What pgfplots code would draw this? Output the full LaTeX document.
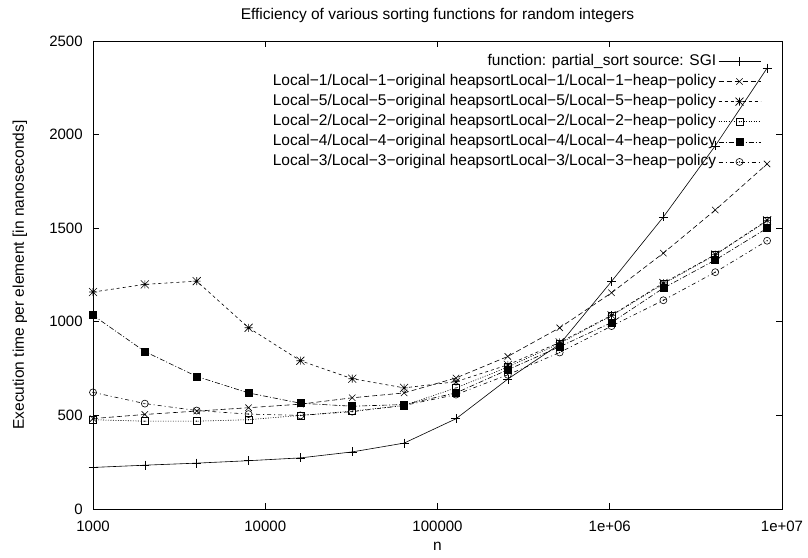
\documentclass[border=0pt]{standalone}
\usepackage{fontspec}
\setmainfont{Liberation Sans}
\usepackage{pgfplots}
\pgfplotsset{compat=1.18}
\pgfdeclareplotmark{gpstar}{%
  \pgfpathmoveto{\pgfqpoint{-\pgfplotmarksize}{0pt}}\pgfpathlineto{\pgfqpoint{\pgfplotmarksize}{0pt}}%
  \pgfpathmoveto{\pgfqpoint{0pt}{-\pgfplotmarksize}}\pgfpathlineto{\pgfqpoint{0pt}{\pgfplotmarksize}}%
  \pgfpathmoveto{\pgfqpoint{-\pgfplotmarksize}{-\pgfplotmarksize}}\pgfpathlineto{\pgfqpoint{\pgfplotmarksize}{\pgfplotmarksize}}%
  \pgfpathmoveto{\pgfqpoint{-\pgfplotmarksize}{\pgfplotmarksize}}\pgfpathlineto{\pgfqpoint{\pgfplotmarksize}{-\pgfplotmarksize}}%
  \pgfusepathqstroke}
\pgfdeclareplotmark{gpbox}{%
  \pgfpathrectangle{\pgfqpoint{-\pgfplotmarksize}{-\pgfplotmarksize}}{\pgfqpoint{2\pgfplotmarksize}{2\pgfplotmarksize}}%
  \pgfusepathqstroke
  \pgfpathcircle{\pgfpointorigin}{0.7pt}\pgfusepathqfill}
\pgfdeclareplotmark{gpcirc}{%
  \pgfpathcircle{\pgfpointorigin}{\pgfplotmarksize}\pgfusepathqstroke
  \pgfpathcircle{\pgfpointorigin}{0.7pt}\pgfusepathqfill}
\begin{document}
\fontsize{15.5pt}{18pt}\selectfont
\begin{tikzpicture}
\begin{axis}[name=ax, scale only axis, width=689pt, height=468pt,
  font=\fontsize{15.5pt}{18pt}\selectfont,
  /pgf/number format/assume math mode=true,
  xmode=log, log basis x=10, xmin=1000, xmax=1e7, ymin=0, ymax=2500,
  xtick={1000,10000,100000,1000000,10000000},
  xticklabels={1000,10000,100000,1e+06,1e+07},
  ytick={0,500,1000,1500,2000,2500},
  yticklabel style={/pgf/number format/1000 sep={}, xshift=-5pt, font=\fontsize{15pt}{18pt}\selectfont},
  xticklabel style={yshift=-7pt, font=\fontsize{15pt}{18pt}\selectfont},
  scaled y ticks=false,
  tick align=inside, xtick pos=both, ytick pos=both,
  major tick length=6pt, minor tick length=3pt,
  every tick/.style={black, line width=0.6pt},
  axis line style={line width=0.6pt},
  title={Efficiency of various sorting functions for random integers},
  title style={at={(axis description cs:0.5,1)}, anchor=center, yshift=19pt},
  xlabel={n},
  xlabel style={at={(axis description cs:0.5,0)}, anchor=center, yshift=-37pt},
  ylabel={Execution time per element [in nanoseconds]},
  ylabel style={at={(axis description cs:-0.106,0.5)}, anchor=center},
  legend plot pos=right, legend cell align=right,
  legend style={at={(1,1)}, anchor=north east, xshift=-18pt, yshift=-9pt, draw=none, fill=none, row sep=1.6pt,
    font=\fontsize{15.5pt}{18pt}\selectfont, nodes={text height=11pt, text depth=3.5pt}},
  legend image code/.code={\draw[mark repeat=2, mark phase=2] plot coordinates {(0pt,0pt) (21pt,0pt) (42pt,0pt)};},
  every axis plot/.append style={line width=0.6pt, black},
]
\addplot[solid, mark=+, mark size=4.5pt, mark options={solid}] coordinates {
(1000,222) (2000,234) (4000,245) (8000,258) (16000,273) (32000,305) (64000,352) (128000,482) (256000,694) (512000,880) (1024000,1216) (2048000,1560) (4096000,1940) (8192000,2355)};
\addlegendentry{function: partial\_sort source: SGI}
\addplot[dash pattern=on 5pt off 3pt, mark=x, mark size=4.5pt, mark options={solid}] coordinates {
(1000,483) (2000,505) (4000,523) (8000,541) (16000,560) (32000,594) (64000,620) (128000,700) (256000,815) (512000,968) (1024000,1155) (2048000,1367) (4096000,1597) (8192000,1843)};
\addlegendentry{Local−1/Local−1−original heapsortLocal−1/Local−1−heap−policy}
\addplot[dash pattern=on 3pt off 3pt, mark=gpstar, mark size=4pt, mark options={solid}] coordinates {
(1000,1159) (2000,1200) (4000,1217) (8000,968) (16000,792) (32000,696) (64000,647) (128000,680) (256000,770) (512000,890) (1024000,1035) (2048000,1207) (4096000,1359) (8192000,1542)};
\addlegendentry{Local−5/Local−5−original heapsortLocal−5/Local−5−heap−policy}
\addplot[dash pattern=on 1pt off 1.5pt, mark=gpbox, mark size=3.5pt, mark options={solid}] coordinates {
(1000,477) (2000,469) (4000,469) (8000,477) (16000,500) (32000,523) (64000,553) (128000,647) (256000,758) (512000,885) (1024000,1032) (2048000,1203) (4096000,1357) (8192000,1539)};
\addlegendentry{Local−2/Local−2−original heapsortLocal−2/Local−2−heap−policy}
\addplot[dash pattern=on 5pt off 2pt on 1pt off 2pt, mark=square*, mark size=3.5pt, mark options={solid}] coordinates {
(1000,1035) (2000,841) (4000,708) (8000,620) (16000,565) (32000,549) (64000,558) (128000,620) (256000,744) (512000,867) (1024000,996) (2048000,1180) (4096000,1330) (8192000,1500)};
\addlegendentry{Local−4/Local−4−original heapsortLocal−4/Local−4−heap−policy}
\addplot[dash pattern=on 4pt off 3pt on 1pt off 3pt, mark=gpcirc, mark size=3.5pt, mark options={solid}] coordinates {
(1000,623) (2000,563) (4000,526) (8000,507) (16000,500) (32000,520) (64000,553) (128000,611) (256000,717) (512000,836) (1024000,977) (2048000,1115) (4096000,1265) (8192000,1433)};
\addlegendentry{Local−3/Local−3−original heapsortLocal−3/Local−3−heap−policy}
\end{axis}
\pgfresetboundingbox
\path ([xshift=-93pt,yshift=-49pt]ax.south west) rectangle ([xshift=26pt,yshift=41pt]ax.north east);
\end{tikzpicture}
\end{document}
